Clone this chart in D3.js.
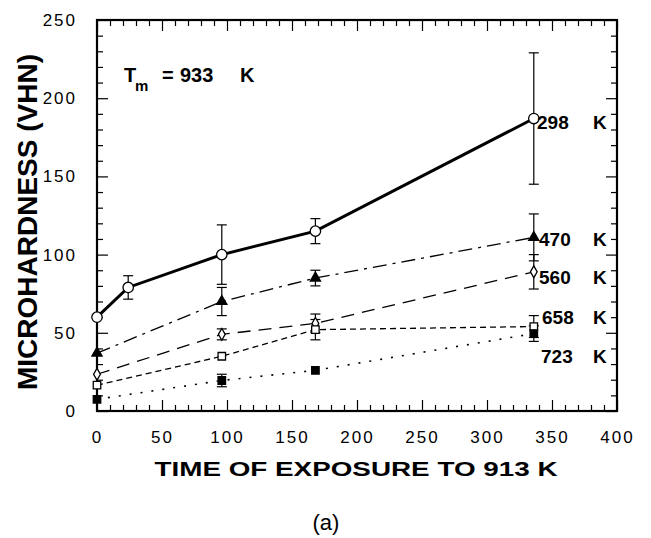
<!DOCTYPE html>
<html><head><meta charset="utf-8">
<script src="https://cdn.jsdelivr.net/npm/d3@7/dist/d3.min.js"></script>
<style>body{margin:0;background:#fff}svg{display:block}</style>
</head><body>
<script>
// ---- data ----
const xTicks = [0, 50, 100, 150, 200, 250, 300, 350, 400];
const yTicks = [0, 50, 100, 150, 200, 250];
const time298 = [0, 24, 96, 168, 336];
const hard298 = [60, 79, 100, 115, 187];
const err298  = [null, 7.5, 19, 8, 42];
const timeOther = [0, 96, 168, 336];
const hard470 = [37, 70, 85, 111];
const err470  = [null, 9, 5, 15];
const hard560 = [23.5, 49, 56, 89];
const err560  = [null, 3.5, 6, 11];
const hard658 = [16.5, 35, 52, 54];
const err658  = [null, null, 6.5, 7];
const hard723 = [7.5, 19.5, 26, 49.5];
const err723  = [null, 4, null, 5];
const seriesLabels = ["298", "470", "560", "658", "723"];

const W = 651, H = 538;
const svg = d3.select("body").append("svg").attr("width", W).attr("height", H);
const x = d3.scaleLinear().domain([0, 400]).range([97, 617]);
const y = d3.scaleLinear().domain([0, 250]).range([411, 20]);
const FONT = "'Liberation Sans', Arial, Helvetica, sans-serif";

// ---- axes (inward ticks on all four sides) ----
const minorX = d3.range(0, 401, 10).filter(v => v % 50 !== 0);
const minorY = d3.range(0, 251, 10).filter(v => v % 50 !== 0);
function styleAxis(g){ g.select(".domain").remove(); g.selectAll("line").attr("stroke","#000").attr("stroke-width",1.2); }

svg.append("g").attr("transform",`translate(0,${y(0)})`)
  .call(d3.axisBottom(x).tickValues(xTicks).tickSize(-11).tickPadding(20).tickFormat(d3.format("d")))
  .call(styleAxis)
  .call(g => g.selectAll("text").attr("font-family",FONT).attr("font-size",17).attr("letter-spacing","2px").attr("fill","#000"));
svg.append("g").attr("transform",`translate(0,${y(0)})`)
  .call(d3.axisBottom(x).tickValues(minorX).tickSize(-6).tickFormat("")).call(styleAxis);
svg.append("g").attr("transform",`translate(0,${y(250)})`)
  .call(d3.axisTop(x).tickValues(xTicks).tickSize(-11).tickFormat("")).call(styleAxis);
svg.append("g").attr("transform",`translate(0,${y(250)})`)
  .call(d3.axisTop(x).tickValues(minorX).tickSize(-6).tickFormat("")).call(styleAxis);

svg.append("g").attr("transform",`translate(${x(0)},0)`)
  .call(d3.axisLeft(y).tickValues(yTicks).tickSize(-11).tickPadding(20).tickFormat(d3.format("d")))
  .call(styleAxis)
  .call(g => g.selectAll("text").attr("font-family",FONT).attr("font-size",17).attr("letter-spacing","2px").attr("fill","#000"));
svg.append("g").attr("transform",`translate(${x(0)},0)`)
  .call(d3.axisLeft(y).tickValues(minorY).tickSize(-6).tickFormat("")).call(styleAxis);
svg.append("g").attr("transform",`translate(${x(400)},0)`)
  .call(d3.axisRight(y).tickValues(yTicks).tickSize(-11).tickFormat("")).call(styleAxis);
svg.append("g").attr("transform",`translate(${x(400)},0)`)
  .call(d3.axisRight(y).tickValues(minorY).tickSize(-6).tickFormat("")).call(styleAxis);

svg.append("rect").attr("x",x(0)).attr("y",y(250)).attr("width",x(400)-x(0)).attr("height",y(0)-y(250))
  .attr("fill","none").attr("stroke","#000").attr("stroke-width",2.2);

// ---- series ----
const series = [
  {t: time298, v: hard298, e: err298, dash: null, lw: 3, marker: "circle"},
  {t: timeOther, v: hard470, e: err470, dash: "14,6,3,6", lw: 1.3, marker: "triangle"},
  {t: timeOther, v: hard560, e: err560, dash: "13,8", lw: 1.3, marker: "diamond"},
  {t: timeOther, v: hard658, e: err658, dash: "6,4", lw: 1.3, marker: "squareOpen"},
  {t: timeOther, v: hard723, e: err723, dash: "2,9", lw: 1.6, marker: "squareFilled"}
];
const line = d3.line().x(d => x(d[0])).y(d => y(d[1]));

series.forEach(s => {
  const pts = s.t.map((t,i) => [t, s.v[i], s.e[i]]);
  svg.append("path").datum(pts).attr("d", line).attr("fill","none").attr("stroke","#000")
    .attr("stroke-width", s.lw).attr("stroke-dasharray", s.dash);
});
// error bars
series.forEach(s => {
  const pts = s.t.map((t,i) => [t, s.v[i], s.e[i]]).filter(d => d[2] != null);
  const g = svg.append("g").attr("stroke","#000").attr("stroke-width",1.2);
  pts.forEach(d => {
    const cx = x(d[0]), y1 = y(d[1]+d[2]), y2 = y(d[1]-d[2]);
    g.append("line").attr("x1",cx).attr("x2",cx).attr("y1",y1).attr("y2",y2);
    g.append("line").attr("x1",cx-5).attr("x2",cx+5).attr("y1",y1).attr("y2",y1);
    g.append("line").attr("x1",cx-5).attr("x2",cx+5).attr("y1",y2).attr("y2",y2);
  });
});
// markers
const sym = {
  circle: {type: d3.symbolCircle, size: 85, fill: "#fff"},
  triangle: {type: d3.symbolTriangle, size: 45, fill: "#000"},
  diamond: {type: d3.symbolDiamond, size: 40, fill: "#fff"},
  squareOpen: {type: d3.symbolSquare, size: 56, fill: "#fff"},
  squareFilled: {type: d3.symbolSquare, size: 56, fill: "#000"}
};
series.forEach(s => {
  const m = sym[s.marker];
  svg.append("g").selectAll("path").data(s.t.map((t,i)=>[t,s.v[i]])).join("path")
    .attr("transform", d => `translate(${x(d[0])},${y(d[1])})`)
    .attr("d", d3.symbol().type(m.type).size(m.size))
    .attr("fill", m.fill).attr("stroke","#000").attr("stroke-width",1.3);
});

// ---- series labels ----
const labelPos = [[537,129],[539,246],[539,284],[542,324],[541,363]];
seriesLabels.forEach((lab,i) => {
  svg.append("text").attr("x",labelPos[i][0]).attr("y",labelPos[i][1]).text(lab)
    .attr("font-family",FONT).attr("font-weight","bold").attr("font-size",19);
  svg.append("text").attr("x",593).attr("y",labelPos[i][1]).text("K")
    .attr("font-family",FONT).attr("font-weight","bold").attr("font-size",19);
});

// ---- annotation T_m = 933 K ----
const ann = svg.append("g").attr("font-family",FONT).attr("font-weight","bold");
ann.append("text").attr("x",124).attr("y",82).attr("font-size",20).text("T");
ann.append("text").attr("x",135).attr("y",91).attr("font-size",15).text("m");
ann.append("text").attr("x",162).attr("y",82).attr("font-size",20).text("=");
ann.append("text").attr("x",180).attr("y",82).attr("font-size",20).text("933");
ann.append("text").attr("x",240).attr("y",82).attr("font-size",20).text("K");

// ---- axis titles ----
svg.append("text").attr("x",356).attr("y",476).attr("text-anchor","middle")
  .attr("font-family",FONT).attr("font-weight","bold").attr("font-size",20)
  .attr("textLength",403).attr("lengthAdjust","spacingAndGlyphs")
  .text("TIME OF EXPOSURE TO 913 K");
svg.append("text").attr("transform","translate(37,222) rotate(-90)").attr("text-anchor","middle")
  .attr("font-family",FONT).attr("font-weight","bold").attr("font-size",28)
  .text("MICROHARDNESS (VHN)");
svg.append("text").attr("x",326).attr("y",530).attr("text-anchor","middle")
  .attr("font-family",FONT).attr("font-size",22).text("(a)");
</script>
</body></html>
